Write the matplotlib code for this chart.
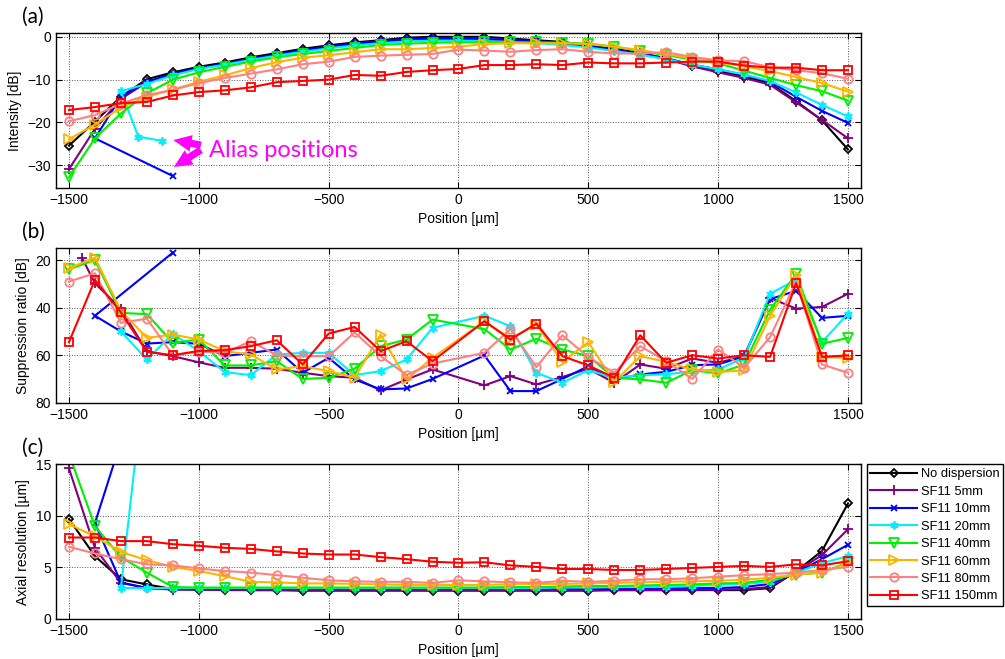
import numpy as np
import matplotlib.pyplot as plt

plt.rcParams['font.family'] = ['Liberation Sans', 'DejaVu Sans']

nan = np.nan

# nominal mirror positions (um)
positions = list(range(-1500, 1501, 100))

# aliased peaks: the first nominal positions of some series show up elsewhere
x_alias_10 = [-1100]
x_alias_20 = [-1141, -1233]
x_alias_5_sup = [-1450]

labels = ['No dispersion', 'SF11 5mm', 'SF11 10mm', 'SF11 20mm',
          'SF11 40mm', 'SF11 60mm', 'SF11 80mm', 'SF11 150mm']

# (a) peak intensity [dB]
int_nodisp = [-25.4, -19.8, -14.0, -9.9, -8.3, -7.0, -6.0, -4.8, -3.8, -2.8, -2.0, -1.3, -0.8, -0.2, 0.0,
              0.0,
              0.0, -0.4, -0.8, -1.2, -2.0, -2.8, -3.8, -5.0, -6.8, -8.0, -9.3, -10.9, -15.0, -19.5, -26.3]
int_sf5 = [-30.9, -21.5, -14.5, -10.6, -8.8, -7.4, -6.4, -5.3, -4.3, -3.3, -2.5, -1.7, -1.1, -0.7, -0.5,
           -0.5,
           -0.7, -0.9, -1.2, -1.6, -2.2, -3.0, -4.0, -5.2, -6.9, -8.3, -9.6, -11.2, -15.3, -19.4, -23.7]
int_sf10 = [-32.5, -23.7, -14.0, -10.5, -8.6, -7.3, -6.3, -5.1, -4.1, -3.1, -2.3, -1.5, -1.0, -0.5, -0.3,
            -0.3,
            -0.5, -0.7, -1.0, -1.5, -2.2, -3.0, -4.0, -5.0, -6.5, -7.6, -8.9, -10.5, -14.0, -17.3, -20.1]
int_sf20 = [-24.3, -23.3, -12.7, -11.0, -9.0, -7.5, -6.5, -5.4, -4.4, -3.5, -2.7, -2.0, -1.5, -1.1, -0.9,
            -0.9,
            -1.0, -1.2, -1.5, -1.9, -2.5, -3.3, -4.2, -5.2, -6.5, -7.6, -8.8, -10.3, -13.0, -15.9, -18.6]
int_sf40 = [-32.8, -23.7, -17.9, -13.2, -10.0, -8.3, -7.0, -5.8, -4.8, -4.0, -3.3, -2.6, -1.9, -1.6, -1.4,
            -1.3,
            -1.3, -1.3, -1.3, -1.4, -1.6, -2.3, -3.3, -4.3, -5.3, -6.2, -7.9, -9.6, -11.3, -12.7, -14.9]
int_sf60 = [-23.9, -20.5, -16.5, -14.0, -12.3, -10.5, -9.0, -7.3, -5.9, -4.9, -4.3, -3.6, -2.9, -2.9, -2.6,
            -2.3,
            -1.7, -1.5, -1.5, -1.5, -1.7, -2.3, -3.1, -4.1, -5.0, -5.9, -6.9, -8.0, -9.4, -10.8, -12.8]
int_sf80 = [-19.7, -18.3, -15.6, -13.6, -12.4, -10.8, -9.6, -8.6, -7.6, -6.4, -5.8, -4.7, -4.4, -4.2, -4.0,
            -3.0,
            -3.2, -3.5, -3.1, -2.9, -3.5, -3.9, -3.9, -3.6, -4.7, -5.5, -5.7, -7.1, -7.8, -8.5, -9.8]
int_sf150 = [-17.1, -16.4, -15.5, -15.2, -13.7, -12.9, -12.5, -11.8, -10.6, -10.3, -10.0, -8.9, -9.1, -8.2, -7.8,
             -7.5,
             -6.6, -6.6, -6.4, -6.6, -6.0, -6.2, -6.2, -6.0, -5.8, -5.8, -6.7, -7.2, -7.2, -7.8, -7.8]

# (b) mirror-image suppression ratio [dB], undefined at zero delay
sup_sf5 = [19.0, 29.7, 40.5, 58.3, 60.4, 63.0, 65.3, 65.3, 65.7, 67.4, 68.8, 69.5, 74.8, 70.2, 66.0,
           nan,
           72.7, 68.8, 72.3, 69.2, 65.7, 71.6, 63.9, 65.7, 61.4, 63.2, 60.4, 35.9, 40.4, 39.7, 34.1]
sup_sf10 = [16.8, 43.4, 50.0, 55.1, 54.5, 55.2, 60.4, 59.0, 57.6, 67.4, 61.1, 70.2, 74.4, 74.0, 70.0,
            nan,
            60.1, 75.1, 75.1, 70.0, 64.6, 70.2, 68.1, 67.0, 64.2, 63.9, 60.4, 36.4, 32.9, 44.3, 43.4]
sup_sf20 = [nan, nan, 50.0, 61.8, 51.0, 58.3, 67.1, 68.4, 59.7, 59.0, 59.0, 68.4, 66.7, 61.8, 48.5,
            nan,
            43.4, 47.8, 67.4, 71.6, 66.3, 69.5, 68.4, 68.1, 66.7, 66.0, 61.1, 34.1, 28.3, 54.5, 42.5]
sup_sf40 = [23.8, 19.9, 42.2, 42.7, 54.8, 53.4, 64.3, 64.3, 62.5, 70.0, 69.5, 65.7, 56.2, 53.4, 45.0,
            nan,
            49.0, 57.6, 53.1, 57.6, 60.4, 69.5, 70.2, 71.6, 66.3, 67.7, 63.9, 40.8, 25.9, 55.2, 52.7]
sup_sf60 = [23.4, 18.9, 41.3, 52.7, 51.3, 53.4, 58.3, 59.7, 66.0, 64.6, 66.7, 69.5, 51.3, 70.2, 61.1,
            nan,
            45.7, 53.0, 47.1, 62.9, 54.5, 71.3, 60.4, 62.8, 66.0, 67.1, 66.4, 43.4, 26.2, 60.8, 61.1]
sup_sf80 = [29.0, 25.5, 46.4, 44.6, 60.0, 58.5, 59.0, 54.1, 60.1, 60.4, 60.4, 50.4, 60.4, 68.3, 63.5,
            nan,
            59.0, 49.0, 65.0, 51.6, 60.8, 67.4, 56.2, 62.5, 70.0, 57.6, 65.3, 52.4, 29.0, 63.9, 67.4]
sup_sf150 = [54.5, 28.3, 42.0, 58.6, 60.0, 58.2, 57.9, 56.2, 53.7, 63.9, 50.9, 48.1, 58.3, 54.1, 62.5,
             nan,
             45.7, 53.4, 46.7, 60.4, 64.3, 69.5, 51.6, 63.2, 60.0, 61.4, 60.0, 60.7, 29.7, 60.7, 60.1]

# (c) axial resolution [um]
res_nodisp = [9.7, 6.1, 3.85, 3.35, 2.9, 2.85, 2.85, 2.8, 2.8, 2.75, 2.75, 2.75, 2.75, 2.75, 2.75,
              2.75,
              2.75, 2.75, 2.75, 2.75, 2.75, 2.8, 2.8, 2.8, 2.8, 2.8, 2.8, 3.0, 4.6, 6.6, 11.2]
res_sf5 = [14.6, 6.9, 3.5, 3.0, 2.85, 2.85, 2.8, 2.8, 2.8, 2.8, 2.8, 2.8, 2.8, 2.8, 2.8,
           2.8,
           2.8, 2.8, 2.8, 2.8, 2.8, 2.8, 2.8, 2.8, 2.85, 2.85, 2.9, 3.1, 4.6, 6.2, 8.7]
res_sf10 = [33.0, 9.3, 3.55, 3.0, 2.9, 2.9, 2.9, 2.9, 2.9, 2.9, 2.9, 2.9, 2.9, 2.9, 2.9,
            2.9,
            2.9, 2.9, 2.9, 2.9, 2.9, 2.9, 2.95, 2.95, 3.0, 3.0, 3.1, 3.4, 4.5, 5.8, 7.2]
res_sf20 = [25.0, 18.0, 3.0, 3.0, 3.0, 3.0, 3.0, 3.0, 3.0, 3.0, 3.0, 3.0, 3.0, 3.0, 3.0,
            3.0,
            3.0, 3.0, 3.0, 3.05, 3.05, 3.1, 3.1, 3.15, 3.2, 3.3, 3.4, 3.6, 4.5, 5.4, 6.1]
res_sf40 = [16.0, 9.0, 6.0, 4.5, 3.1, 3.05, 3.05, 3.05, 3.05, 3.05, 3.05, 3.05, 3.05, 3.05, 3.05,
            3.05,
            3.05, 3.1, 3.1, 3.15, 3.2, 3.2, 3.25, 3.3, 3.35, 3.45, 3.5, 3.8, 4.3, 4.5, 5.5]
res_sf60 = [9.2, 8.0, 6.5, 5.7, 5.05, 4.65, 4.15, 3.6, 3.55, 3.45, 3.45, 3.4, 3.35, 3.3, 3.3,
            3.3,
            3.3, 3.35, 3.4, 3.4, 3.45, 3.5, 3.55, 3.6, 3.65, 3.7, 3.8, 4.0, 4.3, 4.5, 5.4]
res_sf80 = [7.0, 6.35, 5.8, 5.3, 5.2, 4.9, 4.65, 4.5, 4.25, 4.0, 3.75, 3.65, 3.6, 3.6, 3.5,
            3.75,
            3.65, 3.55, 3.5, 3.7, 3.6, 3.7, 3.85, 3.85, 3.95, 4.1, 4.25, 4.35, 4.5, 4.75, 5.05]
res_sf150 = [7.9, 7.9, 7.55, 7.55, 7.25, 7.1, 6.9, 6.8, 6.55, 6.35, 6.25, 6.25, 6.0, 5.8, 5.55,
             5.45,
             5.5, 5.2, 5.05, 4.85, 4.85, 4.75, 4.75, 4.85, 4.95, 5.05, 5.15, 5.05, 5.3, 5.2, 5.6]

colors = ['black', '#800080', '#0000ff', '#00f0ff', '#00f000', '#ffb400', '#ff8080', '#ff0000']
markers = ['D', '+', 'x', (6, 2, 0), 'v', '>', 'o', 's']
msizes = [4.5, 7, 4, 6, 6.5, 6.5, 6, 6]

pos_10 = x_alias_10 + positions[1:]
pos_20 = x_alias_20 + positions[2:]
pos_5_sup = x_alias_5_sup + positions[1:]


def plot_series(ax, xs, ys, k):
    xs = np.asarray(xs, float)
    ys = np.asarray(ys, float)
    ok = ~np.isnan(ys)
    ax.plot(xs[ok], ys[ok], color=colors[k], marker=markers[k], ms=msizes[k],
            mfc='none', mew=1.3, lw=1.5, label=labels[k])


def style_axes(ax, ylabel, yticks, ylim):
    ax.set_xlim(-1550, 1550)
    ax.set_xticks([-1500, -1000, -500, 0, 500, 1000, 1500])
    ax.set_yticks(yticks)
    ax.set_ylim(*ylim)
    ax.grid(True, ls=':', color='0.35', lw=0.7)
    ax.set_axisbelow(True)
    ax.tick_params(direction='in', top=True, right=True, length=4, labelsize=10)
    ax.set_xlabel('Position [µm]', fontsize=10)
    ax.set_ylabel(ylabel, fontsize=10)
    for s in ax.spines.values():
        s.set_linewidth(1.0)


fig = plt.figure(figsize=(10.05, 6.59), dpi=100)
ax_a = fig.add_axes([0.0557, 0.7147, 0.801, 0.2353])
ax_b = fig.add_axes([0.0557, 0.3889, 0.801, 0.2343])
ax_c = fig.add_axes([0.0557, 0.0607, 0.801, 0.2348])

# (a) intensity
int_series = [int_nodisp, int_sf5, int_sf10, int_sf20, int_sf40, int_sf60, int_sf80, int_sf150]
int_x = [positions, positions, pos_10, pos_20, positions, positions, positions, positions]
for k in range(8):
    plot_series(ax_a, int_x[k], int_series[k], k)
style_axes(ax_a, 'Intensity [dB]', [-30, -20, -10, 0], (-35.3, 0.9))

arrow = dict(arrowstyle='simple,head_length=0.65,head_width=0.6,tail_width=0.26',
             color='#ff00ff', lw=0, shrinkA=0, shrinkB=0, mutation_scale=20)
ax_a.annotate('', xy=(-1098, -24.1), xytext=(-992, -25.3), arrowprops=arrow)
ax_a.annotate('', xy=(-1096, -30.4), xytext=(-992, -26.4), arrowprops=arrow)
ax_a.text(-962, -28.0, 'Alias positions', color='#ff00ff', fontsize=17,
          family=['Lato', 'DejaVu Sans'], va='baseline', ha='left')

# (b) suppression ratio (no entry without dispersion)
sup_series = [sup_sf5, sup_sf10, sup_sf20, sup_sf40, sup_sf60, sup_sf80, sup_sf150]
sup_x = [pos_5_sup, pos_10, positions, positions, positions, positions, positions]
for k in range(1, 8):
    plot_series(ax_b, sup_x[k - 1], sup_series[k - 1], k)
style_axes(ax_b, 'Suppression ratio [dB]', [20, 40, 60, 80], (80, 15))

# (c) axial resolution
res_series = [res_nodisp, res_sf5, res_sf10, res_sf20, res_sf40, res_sf60, res_sf80, res_sf150]
res_x = [positions, positions, pos_10, pos_20, positions, positions, positions, positions]
for k in range(8):
    plot_series(ax_c, res_x[k], res_series[k], k)
style_axes(ax_c, 'Axial resolution [µm]', [0, 5, 10, 15], (0, 15))

leg = ax_c.legend(loc='upper left', bbox_to_anchor=(1.007, 1.0), borderaxespad=0,
                  fontsize=9.3, handlelength=3.6, handletextpad=0.3, labelspacing=0.42,
                  borderpad=0.3, fancybox=False, framealpha=1, edgecolor='black')
leg.get_frame().set_linewidth(1.0)

for ax, tag in [(ax_a, '(a)'), (ax_b, '(b)'), (ax_c, '(c)')]:
    bb = ax.get_position()
    fig.text(0.022, bb.y1 + 0.01, tag, fontsize=15, family=['Lato', 'DejaVu Sans'],
             ha='left', va='bottom')

fig.savefig('out.png', dpi=100)
